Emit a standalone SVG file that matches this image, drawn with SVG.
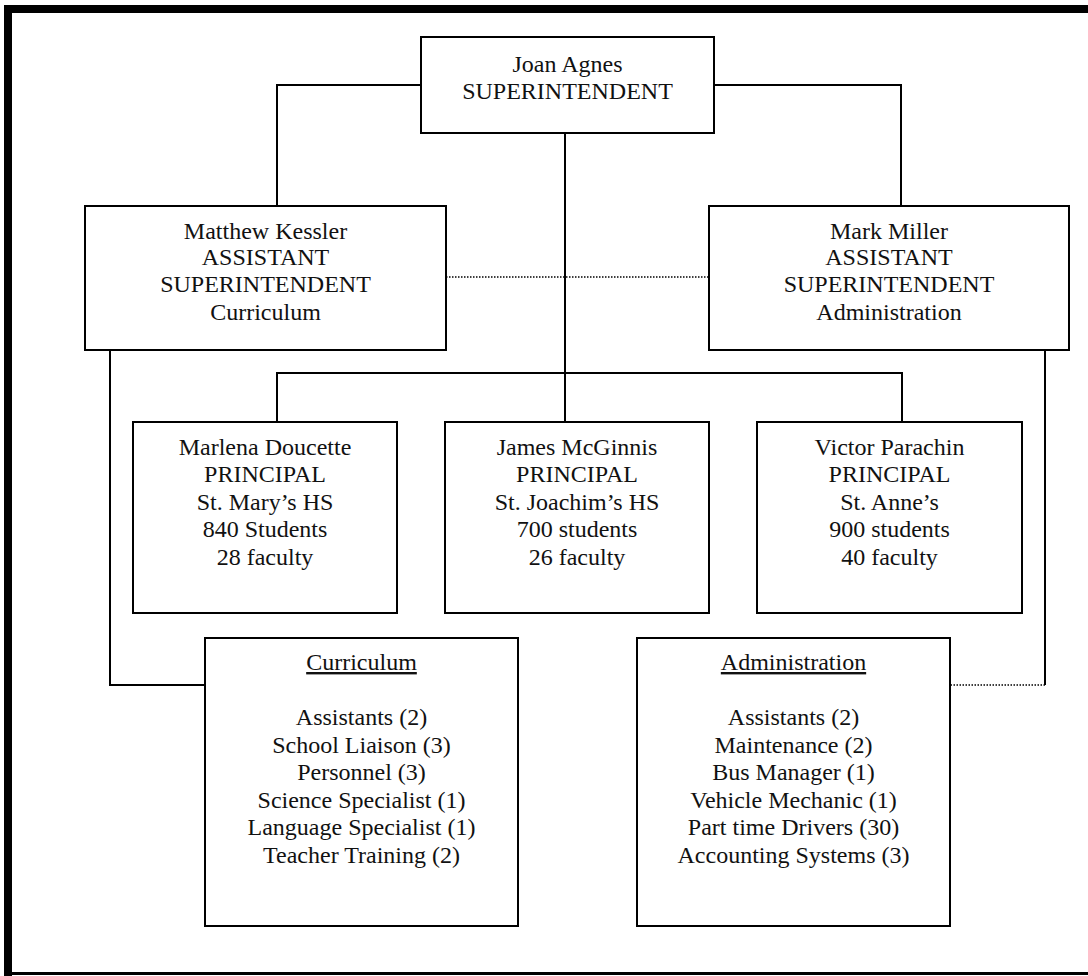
<svg xmlns="http://www.w3.org/2000/svg" width="1088" height="976" viewBox="0 0 1088 976">
<style>
.box{fill:#fff;stroke:#000;stroke-width:2}
.ln{fill:none;stroke:#000;stroke-width:2}
.dot{fill:none;stroke:#000;stroke-width:1.5;stroke-dasharray:1.5 1.5}
text{font-family:"Liberation Serif","Times New Roman",serif;font-size:24px;fill:#111;text-anchor:middle}
.u{text-decoration:underline}
</style>
<rect x="0" y="0" width="1088" height="976" fill="#fff"/>
<g id="frame">
<rect x="4" y="5" width="1084" height="8" fill="#000"/>
<rect x="4" y="5" width="8" height="971" fill="#000"/>
<rect x="4" y="972" width="1084" height="3" fill="#000"/>
</g>
<g id="connectors">
<polyline class="ln" points="421,85 277,85 277,206"/>
<polyline class="ln" points="714,85 901,85 901,206"/>
<line class="ln" x1="565" y1="133" x2="565" y2="422"/>
<polyline class="ln" points="277,422 277,373 902,373 902,422"/>
<line class="dot" x1="446" y1="277" x2="709" y2="277"/>
<polyline class="ln" points="110,350 110,685 205,685"/>
<line class="ln" x1="1045" y1="350" x2="1045" y2="685"/>
<line class="dot" x1="1045" y1="685" x2="950" y2="685"/>
</g>
<g id="superintendent">
<rect class="box" x="421" y="37" width="293" height="96"/>
<text x="567.5" y="72">Joan Agnes</text>
<text x="567.5" y="99">SUPERINTENDENT</text>
</g>
<g id="kessler">
<rect class="box" x="85" y="206" width="361" height="144"/>
<text x="265.5" y="239">Matthew Kessler</text>
<text x="265.5" y="265">ASSISTANT</text>
<text x="265.5" y="292">SUPERINTENDENT</text>
<text x="265.5" y="320">Curriculum</text>
</g>
<g id="miller">
<rect class="box" x="709" y="206" width="360" height="144"/>
<text x="889" y="239">Mark Miller</text>
<text x="889" y="265">ASSISTANT</text>
<text x="889" y="292">SUPERINTENDENT</text>
<text x="889" y="320">Administration</text>
</g>
<g id="doucette">
<rect class="box" x="133" y="422" width="264" height="191"/>
<text x="265" y="455">Marlena Doucette</text>
<text x="265" y="482">PRINCIPAL</text>
<text x="265" y="509.5">St. Mary’s HS</text>
<text x="265" y="537">840 Students</text>
<text x="265" y="564.5">28 faculty</text>
</g>
<g id="mcginnis">
<rect class="box" x="445" y="422" width="264" height="191"/>
<text x="577" y="455">James McGinnis</text>
<text x="577" y="482">PRINCIPAL</text>
<text x="577" y="509.5">St. Joachim’s HS</text>
<text x="577" y="537">700 students</text>
<text x="577" y="564.5">26 faculty</text>
</g>
<g id="parachin">
<rect class="box" x="757" y="422" width="265" height="191"/>
<text x="889.5" y="455">Victor Parachin</text>
<text x="889.5" y="482">PRINCIPAL</text>
<text x="889.5" y="509.5">St. Anne’s</text>
<text x="889.5" y="537">900 students</text>
<text x="889.5" y="564.5">40 faculty</text>
</g>
<g id="curriculum">
<rect class="box" x="205" y="638" width="313" height="288"/>
<text class="u" x="361.5" y="670">Curriculum</text>
<text x="361.5" y="725">Assistants (2)</text>
<text x="361.5" y="752.5">School Liaison (3)</text>
<text x="361.5" y="780">Personnel (3)</text>
<text x="361.5" y="807.5">Science Specialist (1)</text>
<text x="361.5" y="835">Language Specialist (1)</text>
<text x="361.5" y="862.5">Teacher Training (2)</text>
</g>
<g id="administration">
<rect class="box" x="637" y="638" width="313" height="288"/>
<text class="u" x="793.5" y="670">Administration</text>
<text x="793.5" y="725">Assistants (2)</text>
<text x="793.5" y="752.5">Maintenance (2)</text>
<text x="793.5" y="780">Bus Manager (1)</text>
<text x="793.5" y="807.5">Vehicle Mechanic (1)</text>
<text x="793.5" y="835">Part time Drivers (30)</text>
<text x="793.5" y="862.5">Accounting Systems (3)</text>
</g>
</svg>
